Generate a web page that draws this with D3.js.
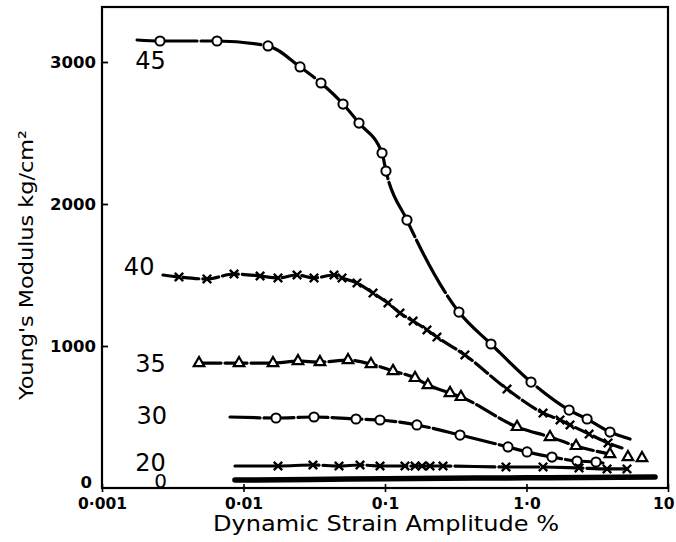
<!DOCTYPE html>
<html>
<head>
<meta charset="utf-8">
<script src="https://cdn.jsdelivr.net/npm/d3@7"></script>
<style>
  html, body { margin: 0; padding: 0; background: #fff; }
  svg { display: block; }
</style>
</head>
<body>
<svg id="chart" width="676" height="542"></svg>
<script>
// ---------- data ----------
const xTickValues = [0.001, 0.01, 0.1, 1, 10];
const xTickLabels = ["0·001", "0·01", "0·1", "1·0", "10"];
const yTickValues = [0, 1000, 2000, 3000];
const yTickLabels = ["0", "1000", "2000", "3000"];
const seriesNames = ["45", "40", "35", "30", "20", "0"];

// 45 (open circles)
const s45x = [0.00177, 0.00257, 0.0065, 0.0149, 0.0251, 0.0353, 0.0505, 0.0655, 0.0953, 0.1016, 0.143, 0.333, 0.561, 1.076, 2.0, 2.68, 3.89, 5.39];
const s45y = [3155, 3148, 3148, 3113, 2965, 2852, 2704, 2570, 2359, 2232, 1887, 1239, 1014, 746, 549, 486, 394, 345];
const s45m = [0, 1, 1, 1, 1, 1, 1, 1, 1, 1, 1, 1, 1, 1, 1, 1, 1, 0];
// 40 (crosses)
const s40x = [0.0027, 0.0035, 0.00552, 0.00857, 0.0131, 0.01753, 0.0239, 0.0315, 0.0436, 0.0497, 0.0634, 0.0823, 0.105, 0.1276, 0.158, 0.198, 0.233, 0.367, 0.728, 1.309, 1.726, 2.03, 2.77, 3.77, 4.73];
const s40y = [1500, 1486, 1472, 1507, 1493, 1479, 1500, 1479, 1500, 1479, 1444, 1373, 1303, 1232, 1176, 1113, 1063, 937, 697, 528, 479, 444, 380, 317, 282];
const s40m = [0, 1, 1, 1, 1, 1, 1, 1, 1, 1, 1, 1, 1, 1, 1, 1, 1, 1, 1, 1, 1, 1, 1, 1, 0];
// 35 (open triangles)
const s35x = [0.00485, 0.0093, 0.01616, 0.02427, 0.0347, 0.0548, 0.0796, 0.1139, 0.163, 0.201, 0.288, 0.344, 0.857, 1.466, 2.24, 3.89, 5.21, 6.55];
const s35y = [880, 880, 880, 894, 887, 901, 873, 824, 775, 725, 669, 641, 430, 359, 296, 239, 218, 211];
const s35m = [1, 1, 1, 1, 1, 1, 1, 1, 1, 1, 1, 1, 1, 1, 1, 1, 1, 1];
// 30 (open circles)
const s30x = [0.00803, 0.01697, 0.0315, 0.0624, 0.0922, 0.168, 0.339, 0.74, 1.009, 1.514, 2.275, 3.10, 3.47];
const s30y = [500, 493, 500, 486, 479, 444, 373, 289, 254, 218, 190, 183, 176];
const s30m = [0, 1, 1, 1, 1, 1, 1, 1, 1, 1, 1, 1, 0];
// 20 (crosses)
const s20x = [0.00871, 0.01753, 0.03097, 0.0473, 0.0666, 0.0922, 0.1384, 0.163, 0.1825, 0.208, 0.257, 0.716, 1.309, 2.35, 3.71, 5.13];
const s20y = [155, 155, 162, 155, 162, 155, 155, 155, 155, 155, 155, 148, 148, 141, 134, 134];
const s20m = [0, 1, 1, 1, 1, 1, 1, 1, 1, 1, 1, 1, 1, 1, 1, 1];
// 0 (no markers, heavy line)
const s0x = [0.0087, 0.03, 0.1, 1.0, 8.1];
const s0y = [56, 60, 65, 72, 77];

// ---------- layout ----------
const svg = d3.select("#chart");
const mLeft = 102, mRight = 668, mTop = 7, mBottom = 488;
const x = d3.scaleLog().domain([0.001, 10]).range([mLeft, mRight]);
const y = d3.scaleLinear().domain([0, 3000]).range([mBottom, 62]);

const FONT = "'DejaVu Sans', sans-serif";

// frame
svg.append("rect")
  .attr("x", mLeft).attr("y", mTop)
  .attr("width", mRight - mLeft).attr("height", mBottom - mTop)
  .attr("fill", "none").attr("stroke", "#000").attr("stroke-width", 2.2);

// axes
const xAxis = d3.axisBottom(x).tickValues(xTickValues)
  .tickFormat((d, i) => xTickLabels[i]).tickSizeInner(4).tickSizeOuter(0).tickPadding(6);
const gx = svg.append("g").attr("transform", `translate(0,${mBottom})`).call(xAxis);
gx.select(".domain").remove();
gx.selectAll(".tick line").attr("y1", -4).attr("y2", 4).attr("stroke-width", 1.6);
gx.selectAll(".tick text").attr("font-family", FONT).attr("font-weight", "bold")
  .attr("font-size", 15.5).attr("fill", "#000");
gx.selectAll(".tick").filter(d => d === 10).select("text")
  .attr("text-anchor", "end").attr("x", 6);

const yAxis = d3.axisLeft(y).tickValues(yTickValues)
  .tickFormat((d, i) => yTickLabels[i]).tickSizeInner(-6).tickSizeOuter(0).tickPadding(6);
const gy = svg.append("g").attr("transform", `translate(${mLeft},0)`).call(yAxis);
gy.select(".domain").remove();
gy.selectAll(".tick line").attr("stroke-width", 1.8);
gy.selectAll(".tick").filter(d => d === 0).select("line").remove();
gy.selectAll(".tick text").attr("font-family", FONT).attr("font-weight", "bold")
  .attr("font-size", 16.5).attr("fill", "#000").attr("x", -6);
gy.selectAll(".tick").filter(d => d === 0).select("text").attr("dy", "-0.05em").attr("x", -10);

// axis titles
svg.append("text")
  .attr("x", 386).attr("y", 531)
  .attr("text-anchor", "middle")
  .attr("font-family", FONT).attr("font-size", 21)
  .attr("textLength", 346).attr("lengthAdjust", "spacingAndGlyphs")
  .text("Dynamic Strain Amplitude %");

svg.append("text")
  .attr("transform", "translate(33,265) rotate(-90)")
  .attr("text-anchor", "middle")
  .attr("font-family", FONT).attr("font-size", 20)
  .attr("textLength", 270).attr("lengthAdjust", "spacingAndGlyphs")
  .text("Young's Modulus kg/cm²");

// ---------- series ----------
const line = d3.line().x(d => x(d[0])).y(d => y(d[1])).curve(d3.curveMonotoneX);
const zip = (xs, ys) => xs.map((v, i) => [v, ys[i]]);

function drawMarkers(pts, marker) {
  const g = svg.append("g");
  if (marker === "circle") {
    g.selectAll("circle").data(pts).join("circle")
      .attr("cx", d => x(d[0])).attr("cy", d => y(d[1])).attr("r", 4.6)
      .attr("fill", "#fff").attr("stroke", "#000").attr("stroke-width", 2);
  } else if (marker === "triangle") {
    const sym = d3.symbol().type(d3.symbolTriangle).size(48);
    g.selectAll("path").data(pts).join("path")
      .attr("d", sym).attr("transform", d => `translate(${x(d[0])},${y(d[1])})`)
      .attr("fill", "#fff").attr("stroke", "#000").attr("stroke-width", 2.2);
  } else if (marker === "cross") {
    const sym = d3.symbol().type(d3.symbolX).size(48);
    g.selectAll("path").data(pts).join("path")
      .attr("d", sym).attr("transform", d => `translate(${x(d[0])},${y(d[1])})`)
      .attr("fill", "none").attr("stroke", "#000").attr("stroke-width", 2.4);
  }
}

function drawSeries(xs, ys, ms, marker, dash, nLine) {
  const pts = zip(xs, ys);
  const linePts = nLine ? pts.slice(0, nLine) : pts;
  svg.append("path").datum(linePts)
    .attr("d", line).attr("fill", "none").attr("stroke", "#000")
    .attr("stroke-width", 3.2).attr("stroke-linecap", "round")
    .attr("stroke-dasharray", dash || null);
  drawMarkers(pts.filter((p, i) => ms[i]), marker);
}

drawSeries(s45x, s45y, s45m, "circle", "60,4");
drawSeries(s40x, s40y, s40m, "cross", "16,4");
drawSeries(s35x, s35y, s35m, "triangle", "22,4", 16);
drawSeries(s30x, s30y, s30m, "circle", "30,4");
drawSeries(s20x, s20y, s20m, "cross", "40,4");

// heavy 0 line
svg.append("path").datum(zip(s0x, s0y))
  .attr("d", line).attr("fill", "none").attr("stroke", "#000")
  .attr("stroke-width", 5.5).attr("stroke-linecap", "round");

// series labels (placed beside the start of each curve)
const labelData = [
  {name: seriesNames[0], xv: 0.0022, yv: s45y[0], size: 24},
  {name: seriesNames[1], xv: 0.00183, yv: s40y[0], size: 24},
  {name: seriesNames[2], xv: 0.0022, yv: s35y[0], size: 24},
  {name: seriesNames[3], xv: 0.00225, yv: s30y[0], size: 24},
  {name: seriesNames[4], xv: 0.0022, yv: s20y[0], size: 24},
  {name: seriesNames[5], xv: 0.0026, yv: s0y[0], size: 20}
];
const labelDy = [29, 0, 9, 7, 5, 8];
svg.append("g").selectAll("text").data(labelData).join("text")
  .attr("x", d => x(d.xv)).attr("y", (d, i) => y(d.yv) + labelDy[i])
  .attr("text-anchor", "middle")
  .attr("font-family", FONT).attr("font-size", d => d.size)
  .text(d => d.name);
</script>
</body>
</html>
